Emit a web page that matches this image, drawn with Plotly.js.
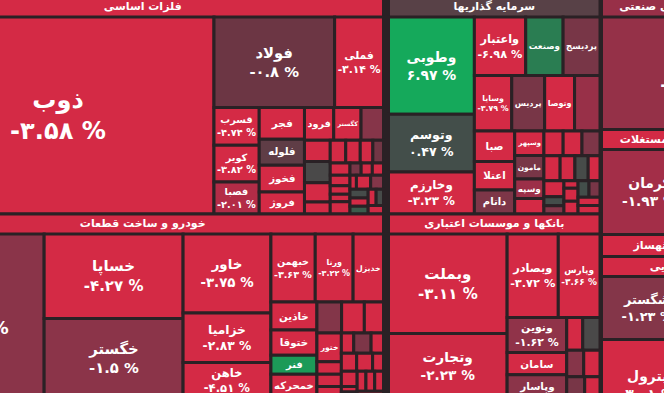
<!DOCTYPE html>
<html><head><meta charset="utf-8">
<script src="https://cdn.plot.ly/plotly-3.0.1.min.js"></script>
<style>
html,body{margin:0;padding:0;background:#2a2125;overflow:hidden;width:664px;height:393px;}
#wrap{position:absolute;left:-98px;top:-3px;width:898px;height:440px;}
</style></head><body><div id="wrap"></div>
<script>
// ---------------- data ----------------
const metalsName = 'فلزات اساسی';
const metalsLabels = ['ذوب','فولاد','فملی','قسرب','کویر','فصبا','فجر','فلوله','فخوز','فروژ','فرود','کگستر','فنوال','فاسمین','فجهان','فنورد','فسپا','فلامی','فمراد','فگستر','فاما','فسازان','فتوسا','فوکا','فسوژ','فافزا','فپنتا','فزر','فباهنر','فرآور','فزرین','فکمند','فمولی','فبیرا','فایرا','فخاس','فالوم','فسرب'];
const metalsValues = [61366,10890,4410,1710,1665,1440,1440,1170,1215,990,960,896,736,546,546,494,312,352,330,286,242,240,210,165,150,240,135,135,135,90,200,180,160,150,140,130,120,130];
const metalsChange = [-3.58,-0.8,-3.14,-4.74,-3.82,-2.01,-3.5,-0.5,-3.4,-3.6,-3.3,-3.5,-1.3,-3.2,0,-3.3,-3.4,-3.4,-3.1,-3.3,-0.9,-3.5,-3.2,-3.3,-3.0,-3.2,-1.0,-3.1,-3.4,-3.0,-3.3,-1.2,0.3,-3.0,0.8,-3.2,0.2,-2.5];

const investName = 'سرمایه گذاریها';
const investLabels = ['وطوبی','وتوسم','وخارزم','واعتبار','وصنعت','پردیسج','وسایا','پردیس','وتوصا','وبانک','صبا','اعتلا','داتام','وسپهر','مامون','وسپه','ونیکی','وبوعلی','وصندوق','وسکاب','وملی','ونیرو','وغدیر','وامید','وبهمن','ولتجار','وسنا','وآتوس','وسدید','وسپید','وکار','وسالت','وآفری','ومشان'];
const investValues = [8294,4916,3591,2987,2175,2146,2062,1815,1650,1402,1220,1140,960,710,680,565,450,470,460,440,404,368,331,294,315,180,165,105,180,180,180,180,180,183];
const investChange = [6.97,0.47,-3.23,-6.98,1.5,-1.0,-3.79,-1.0,-3.0,-1.8,-3.2,-3.4,-1.1,-3.3,-1.0,-1.9,-3.3,-3.2,-3.4,-1.1,-3.3,-3.1,0.2,-3.2,-3.3,0.4,-1.2,-3.1,-3.2,-3.0,0.5,-1.0,-3.3,-2.8];

const autoName = 'خودرو و ساخت قطعات';
const autoLabels = ['خودرو','خساپا','خگستر','خاور','خزامیا','خاهن','خبهمن','ورنا','خدیزل','خاذین','ختوقا','فنر','خمحرکه','خپارس','خکمک','خفنر','ختور','خریخت','خموتور','خلنت','خرینگ','خکار','خچرخش','خکرمان','خبنیان','خشرق','خوساز','خصدرا','خلیبل','خنصیر','خفولا','خمهر','ختراک'];
const autoValues = [23206,11690,10990,6903,4337,3098,3004,2565,2059,1279,1162,860,1093,760,700,590,700,300,300,280,250,350,250,275,286,195,240,84,96,175,175,175,175];
const autoChange = [-1.45,-4.27,-1.5,-3.75,-2.83,-4.51,-3.63,-3.22,-3.4,-3.3,-3.2,2.5,-3.3,-1.2,-3.3,-3.4,-3.3,-3.2,-3.4,-3.1,-3.3,-1.1,-3.2,-3.3,-3.2,-3.0,-3.3,-3.1,-1.0,-3.2,-3.0,-3.3,-3.1];

const bankName = 'بانکها و موسسات اعتباری';
const bankLabels = ['وبملت','وتجارت','وبصادر','وپارس','ونوین','سامان','وپاسار','وپست','وخاور','وسینا','وسرمد','وشهر','وآیند'];
const bankValues = [11741,7611,4249,3465,2070,1320,1380,520,560,450,430,380,323];
const bankChange = [-3.11,-2.23,-3.72,-3.66,-1.62,-3.2,-1.5,-3.2,0,-1.3,-3.3,-1.0,-3.2];

const industName = 'شرکتهای چند رشته ای صنعتی';
const industLabels = ['تاپیکو','ومعادن'];
const industValues = [20981,1350];
const industChange = [-1.74,-3.0];

const estateName = 'انبوه سازی، املاک و مستغلات';
const estateLabels = ['کرمان','ثهساز','وساخت'];
const estateValues = [8160,2112,10968];
const estateChange = [-1.93,-3.4,-3.5];

const chemName = 'محصولات شیمیایی';
const chemLabels = ['شگستر','پترول','شپدیس','جم'];
const chemValues = [5765,8281,9200,7225];
const chemChange = [-1.23,-3.01,-3.5,-3.3];

// ---------------- presentation ----------------
const SHOW_PCT = new Set(['ذوب','فولاد','فملی','قسرب','کویر','فصبا','وطوبی','وتوسم','وخارزم','واعتبار','وسایا',
  'خودرو','خساپا','خگستر','خاور','خزامیا','خاهن','خبهمن','ورنا','وبملت','وتجارت','وبصادر','وپارس','ونوین',
  'تاپیکو','کرمان','شگستر','پترول','وساخت','شپدیس','جم']);
const SHOW_LABEL = new Set(['فجر','فلوله','فخوز','فروژ','فرود','کگستر','وصنعت','پردیسج','پردیس','وتوصا','صبا','اعتلا',
  'داتام','وسپهر','مامون','وسپه','خدیزل','خاذین','ختوقا','فنر','خمحرکه','ختور','سامان','وپاسار','ثهساز']);

const DARK = '#2a2125';
const W = 898, H = 440, OX = 98, OY = 3;
const CS = [
  [0.0,'#d42a45'],[0.1333,'#cf2a45'],[0.1667,'#b22c47'],[0.1833,'#9c2f48'],[0.25,'#8b3449'],
  [0.3,'#833649'],[0.3667,'#6c3644'],[0.5,'#4a4949'],[0.5833,'#434e4a'],[0.75,'#2a7d52'],[1.0,'#15a95b']
];
const FA = '۰۱۲۳۴۵۶۷۸۹';
function fa(s){ return s.replace(/[0-9]/g, d => FA[+d]); }
function pct(c){ return '\u200E' + fa(String(parseFloat(c.toFixed(2)))) + ' %'; }

// sector boxes in screen pixels [x0, x1, y0, y1]
const BOXES = {
  metals: [-98, 383.5, -3, 214],
  invest: [388.5, 600, -3, 214],
  indust: [601.5, 800, -3, 129.5],
  estate: [601.5, 800, 129.5, 256.5],
  chem:   [601.5, 800, 256.5, 430],
  auto:   [-98, 383.5, 214, 398],
  bank:   [388.5, 600, 214, 398]
};
function dom(b){
  return { x: [(b[0]+OX)/W, (b[1]+OX)/W], y: [1-(b[3]+OY)/H, 1-(b[2]+OY)/H] };
}

function sector(name, labels, values, changes, box, ratio){
  const sum = values.reduce((a,b)=>a+b,0);
  const avg = values.reduce((s,v,i)=>s+v*changes[i],0)/sum;
  const text = [name].concat(labels.map((l,i)=>
    SHOW_PCT.has(l) ? l + '<br>' + pct(changes[i]) : (SHOW_LABEL.has(l) ? l : '')));
  const sizes = [11].concat(values.map(v => Math.max(9.5, Math.min(26, 8 + 0.065*Math.sqrt(v)))));
  return {
    type: 'treemap',
    labels: [name].concat(labels),
    parents: [''].concat(labels.map(()=>name)),
    values: [0].concat(values),
    branchvalues: 'remainder',
    sort: false,
    text: text,
    textinfo: 'text',
    textposition: 'middle center',
    textfont: { family: 'DejaVu Sans', size: sizes, color: '#ffffff', weight: 'bold' },
    marker: {
      colors: [avg].concat(changes),
      colorscale: CS, cmin: -3, cmax: 3, showscale: false,
      line: { width: 3, color: DARK },
      pad: { t: 20, l: 0, r: 0, b: 0 }
    },
    tiling: { packing: 'squarify', squarifyratio: ratio, pad: 0 },
    pathbar: { visible: false },
    domain: dom(box),
    hoverinfo: 'skip'
  };
}

const GOLD = 1.618034;
const data = [
  sector(metalsName, metalsLabels, metalsValues, metalsChange, BOXES.metals, GOLD),
  sector(investName, investLabels, investValues, investChange, BOXES.invest, GOLD),
  sector(industName, industLabels, industValues, industChange, BOXES.indust, GOLD),
  sector(estateName, estateLabels, estateValues, estateChange, BOXES.estate, 3),
  sector(chemName, chemLabels, chemValues, chemChange, BOXES.chem, GOLD),
  sector(autoName, autoLabels, autoValues, autoChange, BOXES.auto, GOLD),
  sector(bankName, bankLabels, bankValues, bankChange, BOXES.bank, GOLD)
];

Plotly.newPlot('wrap', data, {
  width: W, height: H,
  margin: { l: 0, r: 0, t: 0, b: 0 },
  paper_bgcolor: DARK, plot_bgcolor: DARK,
  showlegend: false
}, { displayModeBar: false, staticPlot: true });
</script></body></html>
